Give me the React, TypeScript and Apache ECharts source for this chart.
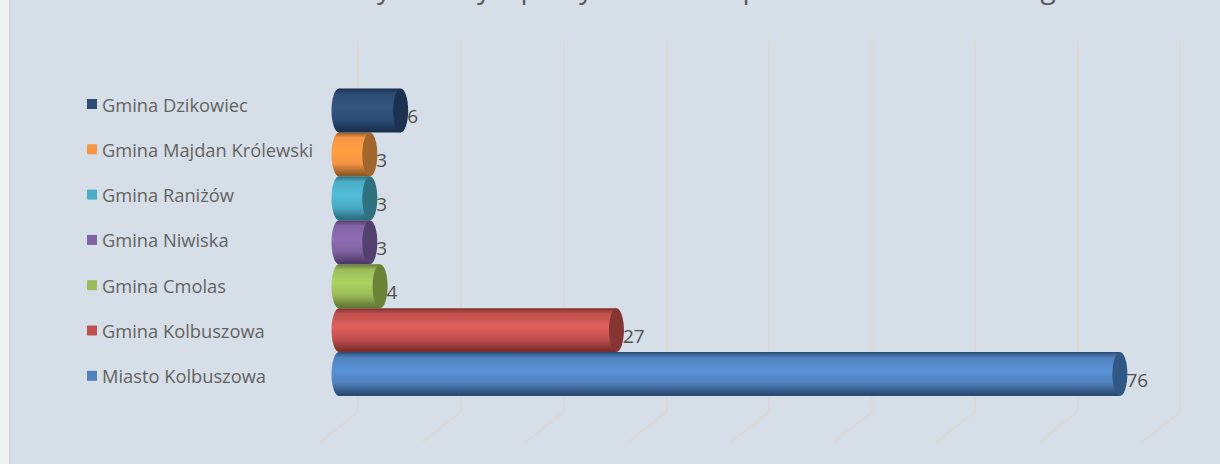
import React, { useEffect, useRef } from "react";
import * as echarts from "echarts";

const categories = [
  "Gmina Dzikowiec",
  "Gmina Majdan Królewski",
  "Gmina Raniżów",
  "Gmina Niwiska",
  "Gmina Cmolas",
  "Gmina Kolbuszowa",
  "Miasto Kolbuszowa",
];
const values = [6, 3, 3, 3, 4, 27, 76];
const colors = ["#2c4d75", "#f79646", "#4bacc6", "#8064a2", "#9bbb59", "#c0504d", "#4f81bd"];
const bright = ["#34577f", "#ff9f40", "#52bcd8", "#8f6db3", "#afd363", "#df5f5c", "#5a92d6"];
const dark = ["#1a3050", "#8f5a26", "#2b6f82", "#4f3a6b", "#647a37", "#7c2f2d", "#2a4a72"];
const caps = ["#1c3250", "#a0662c", "#30717f", "#53406f", "#6c8239", "#853533", "#315785"];
const gridTicks = [0, 10, 20, 30, 40, 50, 60, 70, 80];
const titleFragments = ["y", "y", "p", "y", "p", "g"];
const titleFragmentX = [384, 484, 529, 586, 751, 1048];

export default function App() {
  const ref = useRef<HTMLDivElement>(null);
  useEffect(() => {
    const chart = echarts.init(ref.current!, null, { renderer: "svg" });
    const bars = categories.map((name, i) => ({
      name,
      type: "custom",
      xAxisIndex: 1,
      yAxisIndex: 1,
      z: 5 + (categories.length - i),
      itemStyle: { color: colors[i] },
      data: [[values[i], name]],
      renderItem: (_: any, api: any) => {
        const end = api.coord([api.value(0), i]);
        const start = api.coord([0, i]);
        const h = api.size([0, 1])[1];
        const rx = 7.5;
        const top = end[1] - h / 2;
        const grad = new echarts.graphic.LinearGradient(0, 0, 0, 1, [
          { offset: 0, color: dark[i] },
          { offset: 0.12, color: colors[i] },
          { offset: 0.42, color: bright[i] },
          { offset: 0.7, color: colors[i] },
          { offset: 0.96, color: dark[i] },
          { offset: 1, color: dark[i] },
        ]);
        return {
          type: "group",
          children: [
            { type: "ellipse", shape: { cx: start[0], cy: end[1], rx, ry: h / 2 }, style: { fill: grad } },
            { type: "rect", shape: { x: start[0], y: top, width: end[0] - start[0], height: h }, style: { fill: grad } },
            { type: "ellipse", shape: { cx: end[0], cy: end[1], rx, ry: h / 2 }, style: { fill: caps[i] } },
            {
              type: "text",
              x: end[0] + rx - 1,
              y: end[1] + 6,
              style: { text: String(api.value(0)), fill: "#505050", font: '19px "Open Sans"', textVerticalAlign: "middle" },
            },
          ],
        };
      },
    }));
    chart.setOption({
      animation: false,
      backgroundColor: "#d6dfe7",
      legend: {
        orient: "vertical",
        left: 82,
        top: 90,
        itemWidth: 10,
        itemHeight: 10,
        itemGap: 27.3,
        icon: "rect",
        data: categories,
        textStyle: { color: "#636363", fontSize: 18.3, fontFamily: "Open Sans" },
      },
      grid: [
        { left: 358, top: 41, width: 822, height: 371 },
        { left: 339, top: 88.5, width: 822, height: 307.5 },
      ],
      xAxis: [
        {
          type: "value", gridIndex: 0, min: 0, max: 80, interval: 10,
          axisLabel: { show: false }, axisLine: { show: false }, axisTick: { show: false },
          splitLine: { show: true, lineStyle: { color: "#dcdad8", width: 2 } },
        },
        {
          type: "value", gridIndex: 1, min: 0, max: 80, interval: 10,
          axisLabel: { show: false }, axisLine: { show: false }, axisTick: { show: false }, splitLine: { show: false },
        },
      ],
      yAxis: [
        { type: "value", gridIndex: 0, min: 0, max: 1, show: false },
        { type: "category", gridIndex: 1, data: categories, inverse: true, show: false },
      ],
      series: [
        {
          type: "custom",
          xAxisIndex: 0,
          yAxisIndex: 0,
          silent: true,
          z: 1,
          data: gridTicks.map((v) => [v, 0]),
          renderItem: (_: any, api: any) => {
            const p = api.coord([api.value(0), 0]);
            return {
              type: "line",
              shape: { x1: p[0], y1: p[1], x2: p[0] - 38, y2: p[1] + 30 },
              style: { stroke: "#dcdad8", lineWidth: 2 },
            };
          },
        },
        ...bars,
      ],
      graphic: [
        { type: "rect", left: 0, top: 0, shape: { width: 9, height: 464 }, style: { fill: "#eef0f2" }, z: 20 },
        { type: "rect", left: 9, top: 0, shape: { width: 2, height: 464 }, style: { fill: "#d2d5d8" }, z: 20 },
        ...titleFragments.map((t, i) => ({
          type: "text",
          x: titleFragmentX[i],
          y: -27,
          z: 20,
          style: { text: t, fill: "#595959", font: '28px "Open Sans"', textAlign: "center", textVerticalAlign: "top" },
        })),
      ],
    });
    return () => chart.dispose();
  }, []);
  return <div ref={ref} style={{ position: "fixed", left: 0, top: 0, width: 1220, height: 464 }} />;
}
